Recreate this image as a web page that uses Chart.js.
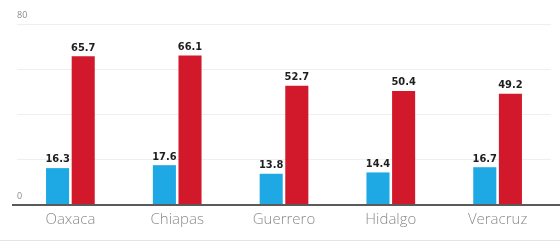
<!DOCTYPE html>
<html>
<head>
<meta charset="utf-8">
<script src="https://cdn.jsdelivr.net/npm/chart.js"></script>
<style>
    html, body { margin: 0; padding: 0; background: #fff; }
    #wrap { width: 560px; height: 243px; position: relative; }
</style>
</head>
<body>
<div id="wrap"><canvas id="barChart"></canvas></div>
<script>
// Data
const states = ['Oaxaca', 'Chiapas', 'Guerrero', 'Hidalgo', 'Veracruz'];
const blueValues = [16.3, 17.6, 13.8, 14.4, 16.7];
const redValues = [65.7, 66.1, 52.7, 50.4, 49.2];
const yTickLabels = [0, 80];

// Value labels above each bar
const valueLabels = {
    id: 'valueLabels',
    afterDatasetsDraw(chart) {
        const ctx = chart.ctx;
        ctx.save();
        ctx.font = 'bold 11px "DejaVu Sans Condensed", "Liberation Sans Narrow", sans-serif';
        ctx.fillStyle = '#1e1e1e';
        ctx.textAlign = 'center';
        ctx.textBaseline = 'bottom';
        chart.data.datasets.forEach(function(ds, i) {
            chart.getDatasetMeta(i).data.forEach(function(bar, j) {
                ctx.fillText(ds.data[j].toFixed(1), bar.x, bar.y - 3);
            });
        });
        ctx.restore();
    }
};

// Baseline and bottom rule
const rules = {
    id: 'rules',
    afterDraw(chart) {
        const ctx = chart.ctx;
        const y0 = chart.scales.y.getPixelForValue(0);
        ctx.save();
        ctx.strokeStyle = '#5a5a5a';
        ctx.lineWidth = 2;
        ctx.beginPath();
        ctx.moveTo(12, y0);
        ctx.lineTo(chart.width, y0);
        ctx.stroke();
        ctx.strokeStyle = '#e4e4e4';
        ctx.lineWidth = 1;
        ctx.beginPath();
        ctx.moveTo(0, chart.height - 2.5);
        ctx.lineTo(chart.width, chart.height - 2.5);
        ctx.stroke();
        ctx.restore();
    }
};

new Chart(document.getElementById('barChart').getContext('2d'), {
    type: 'bar',
    data: {
        labels: states,
        datasets: [
            {
                data: blueValues,
                backgroundColor: '#1ea8e4',
                borderWidth: 0
            },
            {
                data: redValues,
                backgroundColor: '#d2192b',
                borderWidth: 0
            }
        ]
    },
    options: {
        responsive: true,
        maintainAspectRatio: false,
        animation: false,
        events: [],
        layout: {
            padding: { left: 17, right: 9, top: 24, bottom: 16 }
        },
        datasets: {
            bar: {
                categoryPercentage: 0.48,
                barPercentage: 0.9
            }
        },
        plugins: {
            legend: { display: false },
            tooltip: { enabled: false }
        },
        scales: {
            x: {
                grid: { display: false },
                border: { display: false },
                ticks: {
                    color: '#8a8a8a',
                    padding: -2,
                    font: { family: '"Open Sans", sans-serif', size: 15, weight: 300 }
                }
            },
            y: {
                min: 0,
                max: 80,
                border: { display: false },
                grid: {
                    color: '#efefef',
                    drawTicks: false
                },
                ticks: {
                    stepSize: 20,
                    mirror: true,
                    padding: 0,
                    labelOffset: -9,
                    color: '#8a8a8a',
                    font: { family: '"Open Sans", sans-serif', size: 9 },
                    callback: function(value) {
                        return yTickLabels.includes(value) ? value : '';
                    }
                }
            }
        }
    },
    plugins: [valueLabels, rules]
});
</script>
</body>
</html>
